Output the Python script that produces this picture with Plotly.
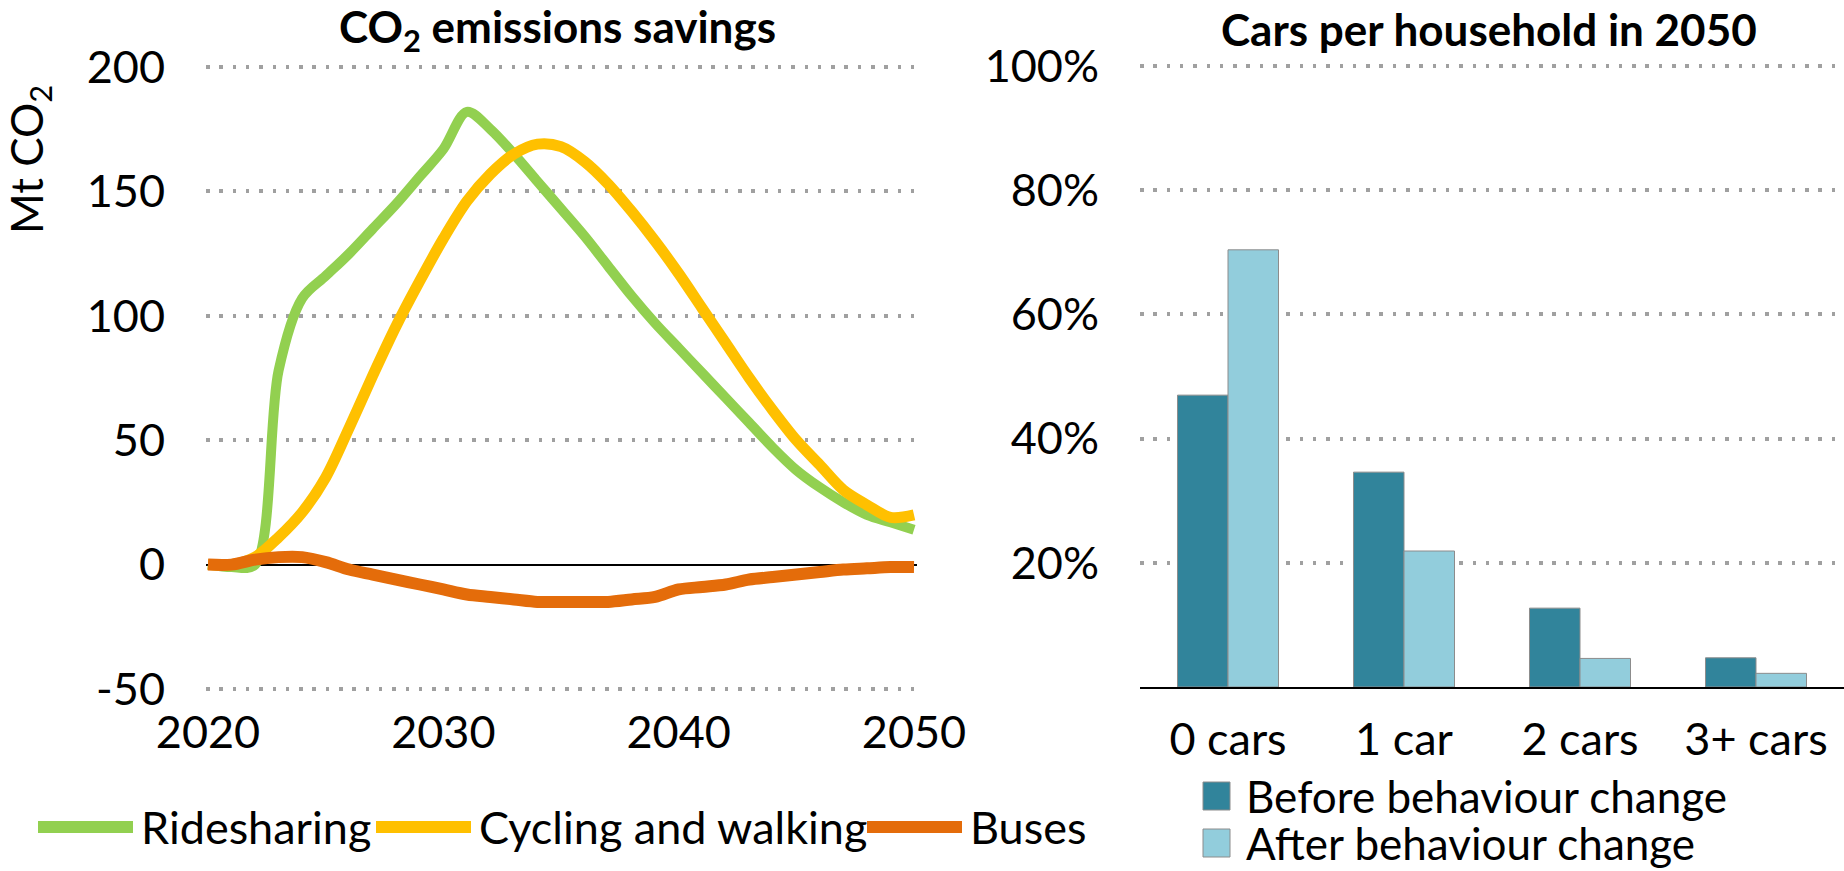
import plotly.graph_objects as go

# ---------------- data ----------------
years = [2020, 2021, 2022, 2023, 2024, 2025, 2026, 2027, 2028, 2029, 2030,
         2031, 2032, 2033, 2034, 2035, 2036, 2037, 2038, 2039, 2040,
         2041, 2042, 2043, 2044, 2045, 2046, 2047, 2048, 2049, 2050]
ridesharing = [0, -1, 0, 78, 107, 116, 125, 135, 145, 156, 167,
               182, 175, 165, 154, 143, 132, 120, 108, 97, 87,
               77, 67, 57, 47, 38, 31, 25, 20, 17, 14]
cycling_walking = [0, 0, 3, 11, 21, 35, 55, 76, 96, 114, 131,
                   146, 157, 165, 169, 168, 162, 153, 142, 130, 117,
                   103, 89, 75, 62, 50, 40, 30, 24, 19, 20]
buses = [0, 0, 2, 3, 3, 1, -2, -4, -6, -8, -10,
         -12, -13, -14, -15, -15, -15, -15, -14, -13, -10,
         -9, -8, -6, -5, -4, -3, -2, -1.5, -1, -1]

car_categories = ["0 cars", "1 car", "2 cars", "3+ cars"]
before_change = [47.0, 34.6, 12.7, 4.7]
after_change = [70.4, 21.9, 4.6, 2.2]

left_yticks = [-50, 0, 50, 100, 150, 200]
left_yticktext = ["-50", "0", "50", "100", "150", "200"]
left_xticks = [2020, 2030, 2040, 2050]
right_yticks = [20, 40, 60, 80, 100]
right_yticktext = ["20%", "40%", "60%", "80%", "100%"]

# ---------------- styling ----------------
W, H = 1844, 871
FONT = "Lato"
FS = 45
GREEN, YELLOW, ORANGE = "#92D050", "#FFC000", "#E46C0A"
BEFORE_C, AFTER_C = "#31849B", "#92CDDC"
GRID_C = "#A0A0A0"
DOT = "3.5px,9.8px"


def px_x(p):
    return p / W


def px_y(p):
    return 1 - p / H


fig = go.Figure()

line_series = [("Ridesharing", ridesharing, GREEN, 10),
               ("Cycling and walking", cycling_walking, YELLOW, 11),
               ("Buses", buses, ORANGE, 12)]
for name, vals, col, lw in line_series:
    fig.add_trace(go.Scatter(x=years, y=vals, name=name, mode="lines",
                             line=dict(color=col, width=lw, shape="spline", smoothing=0.9),
                             xaxis="x", yaxis="y", showlegend=False))

fig.add_trace(go.Bar(x=car_categories, y=before_change, name="Before behaviour change",
                     marker=dict(color=BEFORE_C, line=dict(color="#8C8C8C", width=1)),
                     xaxis="x2", yaxis="y2", showlegend=False))
fig.add_trace(go.Bar(x=car_categories, y=after_change, name="After behaviour change",
                     marker=dict(color=AFTER_C, line=dict(color="#8C8C8C", width=1)),
                     xaxis="x2", yaxis="y2", showlegend=False))

tickfont = dict(family=FONT, size=FS, color="black")

fig.update_layout(
    width=W, height=H, autosize=False,
    margin=dict(l=0, r=0, t=0, b=0, autoexpand=False),
    paper_bgcolor="white", plot_bgcolor="white",
    font=dict(family=FONT, size=FS, color="black"),
    barmode="group", bargap=0.426, bargroupgap=0,
    xaxis=dict(domain=[px_x(206), px_x(917)], range=[2019.915, 2050.127],
               tickvals=left_xticks, showgrid=False, zeroline=False, showline=False,
               ticks="", tickfont=tickfont, ticklabelstandoff=12, fixedrange=True,
               automargin=False),
    yaxis=dict(domain=[px_y(690.24), px_y(65.76)], range=[-50.5, 200.5],
               tickvals=left_yticks, ticktext=left_yticktext, showgrid=True,
               gridcolor=GRID_C, gridwidth=3.5,
               griddash=DOT, zeroline=True, zerolinecolor="black", zerolinewidth=1.5,
               showline=False, ticks="", tickfont=tickfont, ticklabelstandoff=40,
               fixedrange=True, automargin=False),
    xaxis2=dict(domain=[px_x(1140), 1.0], anchor="y2", showgrid=False, zeroline=False,
                showline=True, linecolor="black", linewidth=2, ticks="",
                tickfont=tickfont, ticklabelstandoff=12, fixedrange=True,
                automargin=False),
    yaxis2=dict(domain=[px_y(687), px_y(59.8)], anchor="x2", range=[0, 101],
                tickvals=right_yticks, ticktext=right_yticktext, showgrid=True,
                gridcolor=GRID_C, gridwidth=3.5, griddash=DOT, zeroline=False,
                showline=False, ticks="", tickfont=tickfont, ticklabelstandoff=40,
                fixedrange=True, automargin=False),
)

annotations = [
    dict(text="<b>CO<sub>2</sub> emissions savings</b>", x=px_x(557), y=px_y(29),
         xref="paper", yref="paper", showarrow=False, xanchor="center", yanchor="middle",
         font=dict(family=FONT, size=44, color="black")),
    dict(text="<b>Cars per household in 2050</b>", x=px_x(1489), y=px_y(29),
         xref="paper", yref="paper", showarrow=False, xanchor="center", yanchor="middle",
         font=dict(family=FONT, size=44, color="black")),
    dict(text="Mt CO<sub>2</sub>", x=px_x(29), y=px_y(160), textangle=-90,
         xref="paper", yref="paper", showarrow=False, xanchor="center", yanchor="middle",
         font=dict(family=FONT, size=44, color="black")),
]

shapes = []
# left legend (line series)
leg_left = [(38, 133, 139), (376, 471, 477), (867, 962, 968)]
for (x0, x1, tx), (name, _, col, lw) in zip(leg_left, line_series):
    shapes.append(dict(type="line", xref="paper", yref="paper",
                       x0=px_x(x0), x1=px_x(x1), y0=px_y(827), y1=px_y(827),
                       line=dict(color=col, width=12)))
    annotations.append(dict(text=name, x=px_x(tx), y=px_y(827), xref="paper", yref="paper",
                            showarrow=False, xanchor="left", yanchor="middle",
                            font=dict(family=FONT, size=FS, color="black")))

# right legend (bar series)
for yc, name, col in [(796, "Before behaviour change", BEFORE_C),
                      (843, "After behaviour change", AFTER_C)]:
    shapes.append(dict(type="rect", xref="paper", yref="paper",
                       x0=px_x(1203), x1=px_x(1230), y0=px_y(yc - 14), y1=px_y(yc + 14),
                       fillcolor=col, line=dict(color="#8C8C8C", width=1)))
    annotations.append(dict(text=name, x=px_x(1244), y=px_y(yc), xref="paper", yref="paper",
                            showarrow=False, xanchor="left", yanchor="middle",
                            font=dict(family=FONT, size=44, color="black")))

fig.update_layout(annotations=annotations, shapes=shapes)

fig.write_html("out.html", config={"displayModeBar": False},
               post_script="document.body.style.margin='0';document.body.style.overflow='hidden';")
